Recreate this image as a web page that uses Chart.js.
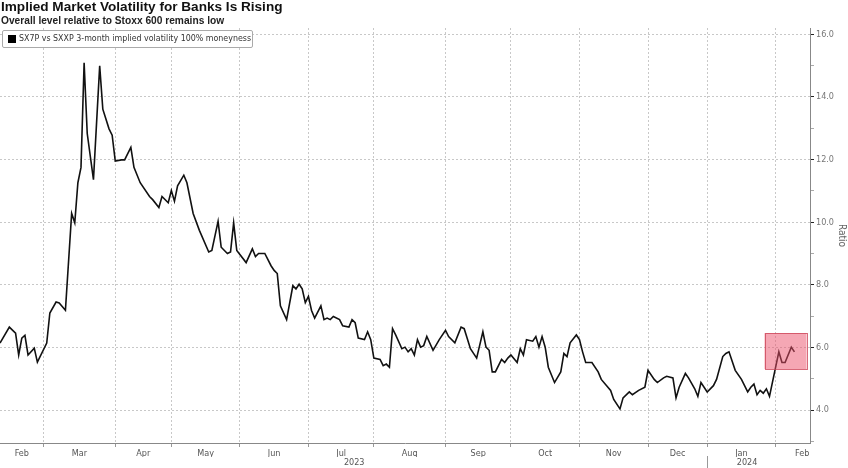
<!DOCTYPE html>
<html>
<head>
<meta charset="utf-8">
<script src="https://cdn.jsdelivr.net/npm/chart.js@4.4.1/dist/chart.umd.min.js"></script>
<style>
html,body{margin:0;padding:0;background:#fff;}
#wrap{position:relative;width:848px;height:468px;overflow:hidden;background:#fff;}
#c{position:absolute;left:0;top:0;}
.title{position:absolute;left:1px;top:-1px;font:bold 13.6px 'Liberation Sans',Arial,sans-serif;color:#111;white-space:nowrap;}
.subtitle{position:absolute;left:1px;top:15px;font:bold 10.2px 'Liberation Sans',Arial,sans-serif;color:#222;white-space:nowrap;}
.legend{position:absolute;left:2px;top:30px;width:251px;height:18px;border:1px solid #aaa;border-radius:2px;background:#fff;box-sizing:border-box;white-space:nowrap;}
.legend .sw{position:absolute;left:5px;top:4px;width:8px;height:8px;background:#000;}
.legend .tx{position:absolute;left:16px;top:2px;font:8.8px 'Liberation Sans Narrow','DejaVu Sans Condensed',Arial,sans-serif;color:#333;}
</style>
</head>
<body>
<div id="wrap">
<canvas id="c" width="848" height="468"></canvas>
<div class="title">Implied Market Volatility for Banks Is Rising</div>
<div class="subtitle">Overall level relative to Stoxx 600 remains low</div>
<div class="legend"><div class="sw"></div><div class="tx">SX7P vs SXXP 3-month implied volatility 100% moneyness</div></div>
</div>
<script>
// trading-day index (0 = mid Feb 2023) and ratio values
const dayIndex = [0,3,5,6,7,8,9,11,12,15,16,18,19,21,23,24,25,26,27,28,30,32,33,35,36,37,39,40,42,43,45,48,49,51,52,54,55,56,57,59,60,62,64,67,68,70,71,73,74,75,76,79,81,82,83,85,87,88,89,90,92,94,95,96,97,98,99,100,101,103,104,105,106,107,109,110,112,113,114,115,117,118,119,120,122,123,124,125,126,127,129,130,131,132,133,134,135,136,137,139,141,143,144,146,148,149,151,153,155,156,157,158,159,161,162,163,164,166,167,168,169,171,172,173,174,175,176,178,180,181,182,183,185,186,187,188,190,192,193,196,197,199,200,202,203,205,207,208,210,211,213,214,216,217,218,220,221,223,224,225,227,229,230,232,233,234,236,238,240,241,242,243,244,245,246,247,250,251,252,254,255];
const ratioValues = [6.14,6.65,6.46,5.76,6.3,6.39,5.76,5.98,5.53,6.14,7.1,7.45,7.42,7.19,10.28,9.98,11.26,11.75,15.09,12.83,11.36,14.99,13.61,12.98,12.78,11.95,11.99,11.99,12.39,11.75,11.26,10.82,10.72,10.47,10.82,10.62,11.01,10.67,11.16,11.5,11.26,10.28,9.74,9.05,9.1,10.03,9.2,9.0,9.05,9.98,9.1,8.71,9.15,8.9,9.0,9.0,8.61,8.46,8.36,7.33,6.89,7.97,7.87,8.02,7.87,7.43,7.63,7.18,6.94,7.33,6.89,6.94,6.89,6.99,6.89,6.69,6.65,6.89,6.79,6.3,6.25,6.5,6.25,5.66,5.62,5.42,5.47,5.37,6.6,6.4,5.96,6.01,5.86,5.96,5.76,6.25,6.01,6.06,6.35,5.91,6.25,6.55,6.35,6.15,6.65,6.6,5.96,5.66,6.5,6.01,5.91,5.22,5.22,5.62,5.52,5.66,5.76,5.52,5.96,5.76,6.25,6.2,6.35,6.01,6.35,6.01,5.37,4.88,5.22,5.81,5.71,6.15,6.4,6.25,5.86,5.52,5.52,5.22,4.98,4.63,4.34,4.04,4.39,4.58,4.49,4.63,4.73,5.27,4.98,4.88,5.03,5.08,5.03,4.39,4.73,5.17,5.03,4.68,4.44,4.88,4.58,4.78,4.98,5.71,5.81,5.86,5.27,4.98,4.58,4.73,4.83,4.49,4.63,4.54,4.68,4.44,5.86,5.52,5.52,6.01,5.86];

const monthStarts = [14,37,55,77,99,120,143,164,186,208,227,249];
const monthLabels = ['Feb','Mar','Apr','May','Jun','Jul','Aug','Sep','Oct','Nov','Dec','Jan','Feb'];
const monthLabelPos = [7,25.5,46,66,88,109.5,131.5,153.5,175,197,217.5,238,257.5];
const yearLabels = ['2023','2024'];
const yearLabelPos = [113.7,239.8];
const yearBreak = [227];
const yTicks = [3,4,5,6,7,8,9,10,11,12,13,14,15,16];
const xRange = [0,260];
const yRange = [2.95,16.2];
const highlightX = [245.4,258.9];
const highlightY = [5.31,6.46];

const NARROW = "'Liberation Sans Narrow','DejaVu Sans Condensed',Arial,sans-serif";

const highlightPlugin = {
  id: 'highlight',
  afterDatasetsDraw(chart) {
    const {ctx, scales:{x, y}} = chart;
    const x0 = x.getPixelForValue(highlightX[0]), x1 = x.getPixelForValue(highlightX[1]);
    const y0 = y.getPixelForValue(highlightY[1]), y1 = y.getPixelForValue(highlightY[0]);
    ctx.save();
    ctx.fillStyle = 'rgba(235,80,105,0.5)';
    ctx.fillRect(x0, y0, x1 - x0, y1 - y0);
    ctx.strokeStyle = 'rgba(205,70,90,0.8)';
    ctx.lineWidth = 1;
    ctx.strokeRect(Math.round(x0)+0.5, Math.round(y0)+0.5, Math.round(x1-x0), Math.round(y1-y0));
    ctx.restore();
  },
  afterDraw(chart) {
    const {ctx, scales:{x, xYear}} = chart;
    ctx.save();
    ctx.strokeStyle = '#999';
    ctx.lineWidth = 1;
    yearBreak.forEach(v => {
      const px = Math.round(x.getPixelForValue(v)) + 0.5;
      ctx.beginPath();
      ctx.moveTo(px, xYear.top - 1);
      ctx.lineTo(px, chart.height);
      ctx.stroke();
    });
    ctx.restore();
  }
};

const isStart = v => monthStarts.indexOf(v) >= 0;

new Chart(document.getElementById('c'), {
  type: 'line',
  data: {
    datasets: [{
      label: 'SX7P vs SXXP 3-month implied volatility 100% moneyness',
      data: dayIndex.map((d, i) => ({x: d, y: ratioValues[i]})),
      borderColor: '#111',
      borderWidth: 1.6,
      pointRadius: 0,
      tension: 0,
      fill: false
    }]
  },
  options: {
    responsive: false,
    animation: false,
    layout: {padding: {top: 28, left: 0, right: 0, bottom: 0}},
    plugins: {legend: {display: false}, tooltip: {enabled: false}, title: {display: false}},
    scales: {
      x: {
        type: 'linear', position: 'bottom', min: xRange[0], max: xRange[1],
        afterBuildTicks: s => {
          const t = monthStarts.map(v => ({value: v})).concat(monthLabelPos.map(v => ({value: v})));
          t.sort((a, b) => a.value - b.value);
          s.ticks = t;
        },
        afterFit: s => { s.height = 14; },
        grid: {
          color: c => (c.tick && isStart(c.tick.value)) ? '#c8c8c8' : 'rgba(0,0,0,0)',
          tickColor: c => (c.tick && isStart(c.tick.value)) ? '#999' : 'rgba(0,0,0,0)',
          tickLength: 4, lineWidth: 1
        },
        border: {display: true, color: '#888', width: 1, dash: [2, 2]},
        ticks: {
          autoSkip: false, maxRotation: 0, minRotation: 0, padding: 1,
          color: '#555', font: {size: 9, family: NARROW},
          callback: v => { const k = monthLabelPos.indexOf(v); return k >= 0 ? monthLabels[k] : ''; }
        }
      },
      xYear: {
        type: 'linear', position: 'bottom', min: xRange[0], max: xRange[1],
        afterBuildTicks: s => { s.ticks = yearLabelPos.map(v => ({value: v})); },
        afterFit: s => { s.height = 11; },
        grid: {display: false, drawTicks: false},
        border: {display: false},
        ticks: {
          autoSkip: false, maxRotation: 0, minRotation: 0, padding: 0,
          color: '#555', font: {size: 9, family: NARROW},
          callback: v => { const k = yearLabelPos.indexOf(v); return k >= 0 ? yearLabels[k] : ''; }
        }
      },
      y: {
        type: 'linear', position: 'right', min: yRange[0], max: yRange[1],
        afterBuildTicks: s => { s.ticks = yTicks.map(v => ({value: v})); },
        afterFit: s => { s.width = 38; },
        grid: {
          color: c => (c.tick && c.tick.value % 2 === 0) ? '#c8c8c8' : 'rgba(0,0,0,0)',
          tickColor: c => (c.tick && c.tick.value % 2 === 0) ? '#222' : '#aaa',
          tickLength: 4, lineWidth: 1
        },
        border: {display: true, color: '#888', width: 1, dash: [2, 2]},
        ticks: {
          autoSkip: false, padding: 2, color: '#777', font: {size: 9, family: NARROW},
          callback: v => (v % 2 === 0) ? v.toFixed(1) : ''
        },
        title: {display: true, text: 'Ratio', color: '#666', font: {size: 10, family: NARROW}, padding: {top: 0, bottom: 4}}
      }
    }
  },
  plugins: [highlightPlugin]
});
</script>
</body>
</html>
